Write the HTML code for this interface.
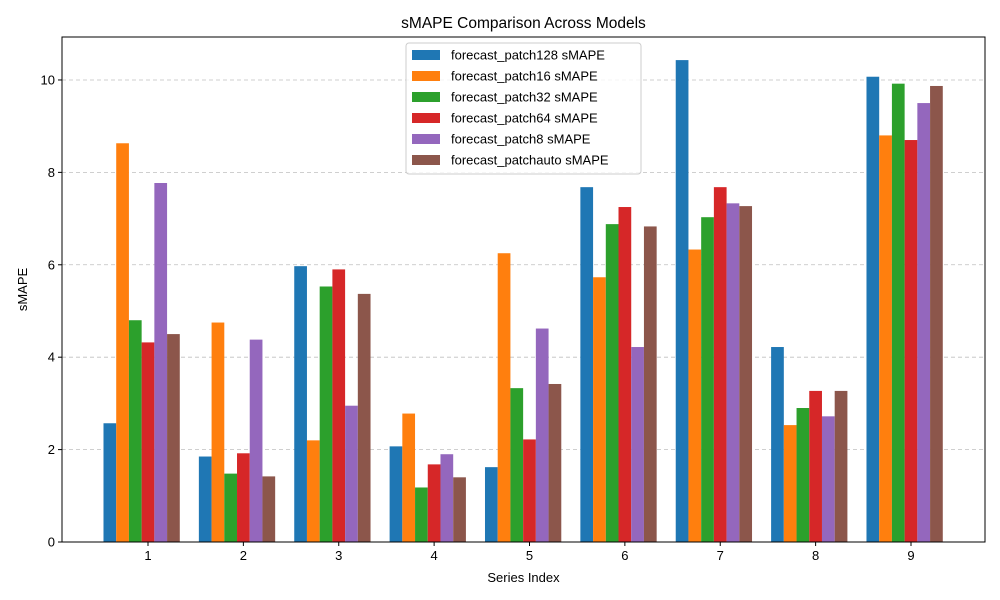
<!DOCTYPE html>
<html><head><meta charset="utf-8"><style>
body{margin:0;background:#fff;}
svg{display:block;font-family:"Liberation Sans","DejaVu Sans",sans-serif;}
</style></head><body>
<svg id="chart" width="1000" height="600" viewBox="0 0 1000 600" xmlns="http://www.w3.org/2000/svg">
<rect width="1000" height="600" fill="#fff"/>
<g id="grid"></g><g id="bars"></g><g id="axes"></g><g id="legend"></g>
</svg>
<script>
const categories = [1,2,3,4,5,6,7,8,9];
const seriesNames = ["forecast_patch128 sMAPE","forecast_patch16 sMAPE","forecast_patch32 sMAPE","forecast_patch64 sMAPE","forecast_patch8 sMAPE","forecast_patchauto sMAPE"];
const s128 = [2.57,1.85,5.97,2.07,1.62,7.68,10.43,4.22,10.07];
const s16 = [8.63,4.75,2.20,2.78,6.25,5.73,6.33,2.53,8.80];
const s32 = [4.80,1.48,5.53,1.18,3.33,6.88,7.03,2.90,9.92];
const s64 = [4.32,1.92,5.90,1.68,2.22,7.25,7.68,3.27,8.70];
const s8 = [7.77,4.38,2.95,1.90,4.62,4.22,7.33,2.72,9.50];
const sauto = [4.50,1.42,5.37,1.40,3.42,6.83,7.27,3.27,9.87];
const yTicks = [0,2,4,6,8,10];
const colors = ["#1f77b4","#ff7f0e","#2ca02c","#d62728","#9467bd","#8c564b"];
const series = [s128,s16,s32,s64,s8,sauto];
const NS="http://www.w3.org/2000/svg";
const L=62,R=985,T=37,B=542;
const xmin=0.0983,xmax=9.776,ymin=0,ymax=10.93;
const xs=v=>L+(v-xmin)/(xmax-xmin)*(R-L);
const ys=v=>B-(v-ymin)/(ymax-ymin)*(B-T);
function mk(tag,attrs,parent,text){const e=document.createElementNS(NS,tag);for(const k in attrs)e.setAttribute(k,attrs[k]);if(text!==undefined)e.textContent=text;parent.appendChild(e);return e;}
const grid=document.getElementById('grid'),bars=document.getElementById('bars'),axes=document.getElementById('axes'),leg=document.getElementById('legend');
yTicks.forEach(t=>{const g=mk('line',{x1:L,x2:R,y1:ys(t),y2:ys(t),stroke:'#b0b0b0','stroke-width':0.8,'stroke-dasharray':'4,3',opacity:0.8},grid);

});
const bw=0.8/6;
series.forEach((arr,si)=>{arr.forEach((v,ci)=>{const x0=xs(categories[ci]+(si-3.5)*bw),x1=xs(categories[ci]+(si-2.5)*bw);
const r=mk('rect',{x:x0,y:ys(v),width:x1-x0,height:ys(0)-ys(v),fill:colors[si]},bars);

});});
const fr=mk('rect',{x:L,y:T,width:R-L,height:B-T,fill:'none',stroke:'#000','stroke-width':1},axes);


yTicks.forEach(t=>{mk('line',{x1:L-4,x2:L,y1:ys(t),y2:ys(t),stroke:'#000'},axes);
const tx=mk('text',{x:L-7,y:ys(t)+4.5,'text-anchor':'end','font-size':13},axes,String(t));

});
categories.forEach(c=>{mk('line',{x1:xs(c),x2:xs(c),y1:B,y2:B+4,stroke:'#000'},axes);
const tx=mk('text',{x:xs(c),y:B+18,'text-anchor':'middle','font-size':13},axes,String(c));

});
let e=mk('text',{x:(L+R)/2,y:582,'text-anchor':'middle','font-size':13},axes,'Series Index');


e=mk('text',{x:27,y:(T+B)/2,'text-anchor':'middle','font-size':13,transform:'rotate(-90 27 '+((T+B)/2)+')'},axes,'sMAPE');


e=mk('text',{x:(L+R)/2,y:28,'text-anchor':'middle','font-size':15.5},axes,'sMAPE Comparison Across Models');


e=mk('rect',{x:406,y:43,width:235,height:131,rx:3,fill:'#fff','fill-opacity':0.8,stroke:'#ccc'},leg);


seriesNames.forEach((n,i)=>{const y=55+i*21;
const g=mk('g',{},leg);


mk('rect',{x:412,y:y-5,width:28,height:10,fill:colors[i]},g);
mk('text',{x:451,y:y+4.5,'font-size':13},g,n);});
</script>
</body></html>
